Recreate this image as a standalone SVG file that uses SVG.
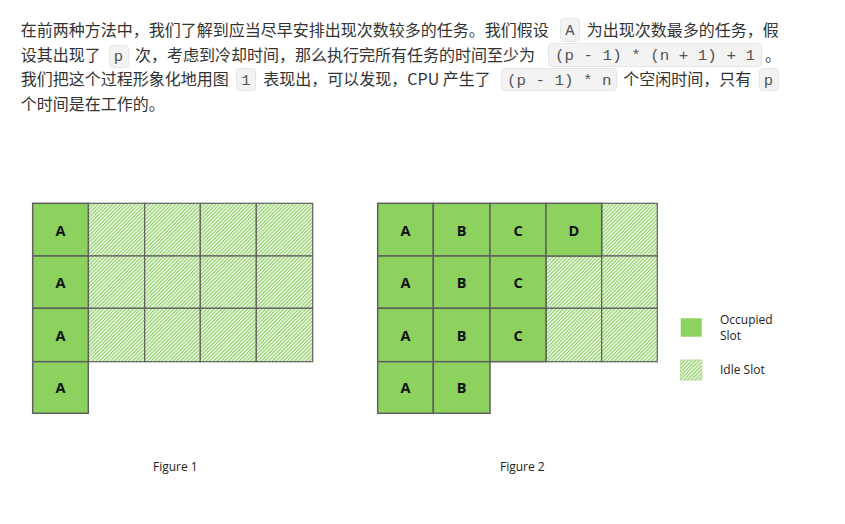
<svg xmlns="http://www.w3.org/2000/svg" width="845" height="524" viewBox="0 0 845 524">
<style>
.p{font-family:"Noto Sans CJK SC","Noto Sans",sans-serif;font-size:16px;fill:#333}
.code{font-family:"Liberation Mono",monospace;font-size:15.5px;fill:#555}
.cb{fill:#f3f3f3;stroke:#e6e6e6;stroke-width:1}
.occ{fill:#8dd15f;stroke:#5f5f5f;stroke-width:1.5}
.idle{fill:url(#hatch);stroke:#5f5f5f;stroke-width:1.2}
.lbl{font-family:"Open Sans","Liberation Sans",sans-serif;font-weight:bold;font-size:14.5px;fill:#111;text-anchor:middle}
.cap{font-family:"Open Sans","Liberation Sans",sans-serif;font-size:12px;fill:#222}
</style>
<defs>
<pattern id="hatch" patternUnits="userSpaceOnUse" width="2.6" height="2.6" patternTransform="rotate(45)">
<rect width="2.6" height="2.6" fill="#ffffff"/>
<rect width="1.4" height="2.6" fill="#93d46b"/>
</pattern>
</defs>
<rect width="845" height="524" fill="#ffffff"/>
<g id="paragraph">
<rect class="cb" x="560.5" y="18.5" width="19" height="23" rx="3"/>
<rect class="cb" x="109.5" y="45.5" width="19" height="22" rx="3"/>
<rect class="cb" x="548.5" y="43.5" width="213" height="23" rx="3"/>
<rect class="cb" x="236.5" y="68.5" width="19" height="22" rx="3"/>
<rect class="cb" x="501.5" y="68.5" width="115" height="22" rx="3"/>
<rect class="cb" x="759.5" y="68.5" width="19" height="22" rx="3"/>
<text class="p" x="20.7" y="36">在前两种方法中，我们了解到应当尽早安排出现次数较多的任务。我们假设</text>
<text class="code" x="570" y="35" text-anchor="middle">A</text>
<text class="p" x="586.7" y="36">为出现次数最多的任务，假</text>
<text class="p" x="20.7" y="61">设其出现了</text>
<text class="code" x="118.5" y="61" text-anchor="middle">p</text>
<text class="p" x="135" y="61">次，考虑到冷却时间，那么执行完所有任务的时间至少为</text>
<text class="code" x="555" y="60" textLength="200" lengthAdjust="spacingAndGlyphs">(p - 1) * (n + 1) + 1</text>
<text class="p" x="765" y="61">。</text>
<text class="p" x="20.7" y="85">我们把这个过程形象化地用图</text>
<text class="code" x="246" y="85" text-anchor="middle">1</text>
<text class="p" x="263.3" y="85">表现出，可以发现，CPU 产生了</text>
<text class="code" x="507" y="85" textLength="104.5" lengthAdjust="spacingAndGlyphs">(p - 1) * n</text>
<text class="p" x="623.3" y="85">个空闲时间，只有</text>
<text class="code" x="768.5" y="85" text-anchor="middle">p</text>
<text class="p" x="20.7" y="110">个时间是在工作的。</text>
</g>
<g id="figure1">
<rect class="idle" x="88.3" y="203.3" width="56.4" height="52.7"/>
<rect class="idle" x="144.7" y="203.3" width="55.6" height="52.7"/>
<rect class="idle" x="200.3" y="203.3" width="56" height="52.7"/>
<rect class="idle" x="256.3" y="203.3" width="56.4" height="52.7"/>
<rect class="idle" x="88.3" y="256" width="56.4" height="52.3"/>
<rect class="idle" x="144.7" y="256" width="55.6" height="52.3"/>
<rect class="idle" x="200.3" y="256" width="56" height="52.3"/>
<rect class="idle" x="256.3" y="256" width="56.4" height="52.3"/>
<rect class="idle" x="88.3" y="308.3" width="56.4" height="53.4"/>
<rect class="idle" x="144.7" y="308.3" width="55.6" height="53.4"/>
<rect class="idle" x="200.3" y="308.3" width="56" height="53.4"/>
<rect class="idle" x="256.3" y="308.3" width="56.4" height="53.4"/>
<rect class="occ" x="32.7" y="203.3" width="55.6" height="52.7"/>
<rect class="occ" x="32.7" y="256" width="55.6" height="52.3"/>
<rect class="occ" x="32.7" y="308.3" width="55.6" height="53.4"/>
<rect class="occ" x="32.7" y="361.7" width="55.6" height="51.6"/>
<text class="lbl" x="60.5" y="235.5">A</text>
<text class="lbl" x="60.5" y="287.5">A</text>
<text class="lbl" x="60.5" y="340.5">A</text>
<text class="lbl" x="60.5" y="393">A</text>
<text class="cap" x="153" y="471">Figure 1</text>
</g>
<g id="figure2">
<rect class="idle" x="601.7" y="203.3" width="55.6" height="52.7"/>
<rect class="idle" x="546" y="256" width="55.7" height="52.3"/>
<rect class="idle" x="601.7" y="256" width="55.6" height="52.3"/>
<rect class="idle" x="546" y="308.3" width="55.7" height="53.4"/>
<rect class="idle" x="601.7" y="308.3" width="55.6" height="53.4"/>
<rect class="occ" x="377.7" y="203.3" width="55.6" height="52.7"/>
<rect class="occ" x="433.3" y="203.3" width="56.7" height="52.7"/>
<rect class="occ" x="490" y="203.3" width="56" height="52.7"/>
<rect class="occ" x="546" y="203.3" width="55.7" height="52.7"/>
<rect class="occ" x="377.7" y="256" width="55.6" height="52.3"/>
<rect class="occ" x="433.3" y="256" width="56.7" height="52.3"/>
<rect class="occ" x="490" y="256" width="56" height="52.3"/>
<rect class="occ" x="377.7" y="308.3" width="55.6" height="53.4"/>
<rect class="occ" x="433.3" y="308.3" width="56.7" height="53.4"/>
<rect class="occ" x="490" y="308.3" width="56" height="53.4"/>
<rect class="occ" x="377.7" y="361.7" width="55.6" height="51.6"/>
<rect class="occ" x="433.3" y="361.7" width="56.7" height="51.6"/>
<text class="lbl" x="405.5" y="235.5">A</text>
<text class="lbl" x="461.6" y="235.5">B</text>
<text class="lbl" x="518" y="235.5">C</text>
<text class="lbl" x="573.8" y="235.5">D</text>
<text class="lbl" x="405.5" y="287.5">A</text>
<text class="lbl" x="461.6" y="287.5">B</text>
<text class="lbl" x="518" y="287.5">C</text>
<text class="lbl" x="405.5" y="340.5">A</text>
<text class="lbl" x="461.6" y="340.5">B</text>
<text class="lbl" x="518" y="340.5">C</text>
<text class="lbl" x="405.5" y="393">A</text>
<text class="lbl" x="461.6" y="393">B</text>
<text class="cap" x="500" y="471">Figure 2</text>
</g>
<g id="legend">
<rect x="680.7" y="318.3" width="21" height="18.4" fill="#8dd15f"/>
<rect x="680.7" y="360" width="21" height="20" fill="url(#hatch)" stroke="#b5dca0" stroke-width="1"/>
<text class="cap" x="720" y="324">Occupied</text>
<text class="cap" x="720" y="340">Slot</text>
<text class="cap" x="720" y="374">Idle Slot</text>
</g>
</svg>
